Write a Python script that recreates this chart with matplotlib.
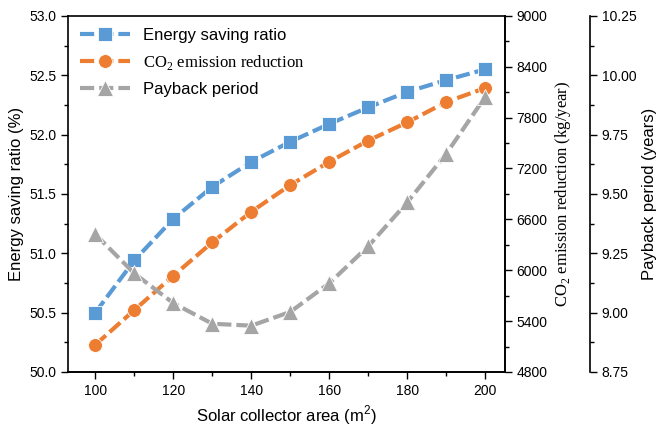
import matplotlib
matplotlib.use("Agg")
import matplotlib.pyplot as plt
from matplotlib.ticker import MultipleLocator, FormatStrFormatter

plt.rcParams['font.family'] = ['Liberation Sans', 'DejaVu Sans']

area = [100, 110, 120, 130, 140, 150, 160, 170, 180, 190, 200]
energy_saving = [50.50, 50.94, 51.29, 51.56, 51.77, 51.94, 52.09, 52.23, 52.36, 52.46, 52.55]
co2_reduction = [5120, 5530, 5935, 6330, 6690, 7005, 7280, 7530, 7745, 7985, 8150]
payback = [9.33, 9.165, 9.04, 8.953, 8.945, 9.003, 9.124, 9.28, 9.465, 9.67, 9.91]

c_blue = '#5B9BD5'
c_orange = '#ED7D31'
c_gray = '#A5A5A5'

fig = plt.figure(figsize=(6.68, 4.30), dpi=100)
ax = fig.add_axes([0.1018, 0.135, 0.654, 0.828])
ax2 = ax.twinx()
ax3 = ax.twinx()
ax3.spines['right'].set_position(('axes', 1.195))
for a in (ax2, ax3):
    a.spines['top'].set_visible(False)
    a.spines['left'].set_visible(False)
ax3.spines['bottom'].set_visible(False)

line_kw = dict(lw=3, ls=(0, (3.4, 1.2)), markeredgecolor='white', markeredgewidth=0.6)
l1, = ax.plot(area, energy_saving, color=c_blue, marker='s', markersize=9.5,
              label='Energy saving ratio', **line_kw)
l2, = ax2.plot(area, co2_reduction, color=c_orange, marker='o', markersize=10,
               label=r'CO$_\mathregular{2}$ emission reduction', **line_kw)
l3, = ax3.plot(area, payback, color=c_gray, marker='^', markersize=11,
               label='Payback period', **line_kw)

ax.set_xlim(93, 205)
ax.set_ylim(50.0, 53.0)
ax2.set_ylim(4800, 9000)
ax3.set_ylim(8.75, 10.25)

ax.xaxis.set_major_locator(MultipleLocator(20))
ax.xaxis.set_minor_locator(MultipleLocator(10))
ax.yaxis.set_major_locator(MultipleLocator(0.5))
ax.yaxis.set_minor_locator(MultipleLocator(0.25))
ax2.yaxis.set_major_locator(MultipleLocator(600))
ax2.yaxis.set_minor_locator(MultipleLocator(300))
ax3.yaxis.set_major_locator(MultipleLocator(0.25))
ax3.yaxis.set_minor_locator(MultipleLocator(0.125))
ax.yaxis.set_major_formatter(FormatStrFormatter('%.1f'))
ax3.yaxis.set_major_formatter(FormatStrFormatter('%.2f'))

for a in (ax, ax2, ax3):
    a.tick_params(which='major', direction='out', length=5, width=1, labelsize=10)
    a.tick_params(which='minor', direction='out', length=3, width=1)
    for s in a.spines.values():
        s.set_linewidth(1.2)
ax.tick_params(axis='x', which='both', top=False)

ax.set_xlabel(r'Solar collector area (m$^\mathregular{2}$)', fontsize=12)
ax.set_ylabel('Energy saving ratio (%)', fontsize=12)
ax2.set_ylabel(r'CO$_\mathregular{2}$ emission reduction (kg/year)', fontsize=12,
               family='Liberation Serif')
ax3.set_ylabel('Payback period (years)', fontsize=12)

leg = ax.legend(handles=[l1, l2, l3], loc='upper left', frameon=False, fontsize=12,
                handlelength=3.0, borderaxespad=0.3, labelspacing=0.6)
leg.get_texts()[1].set_fontfamily('Liberation Serif')

fig.savefig('out.png', dpi=100)
